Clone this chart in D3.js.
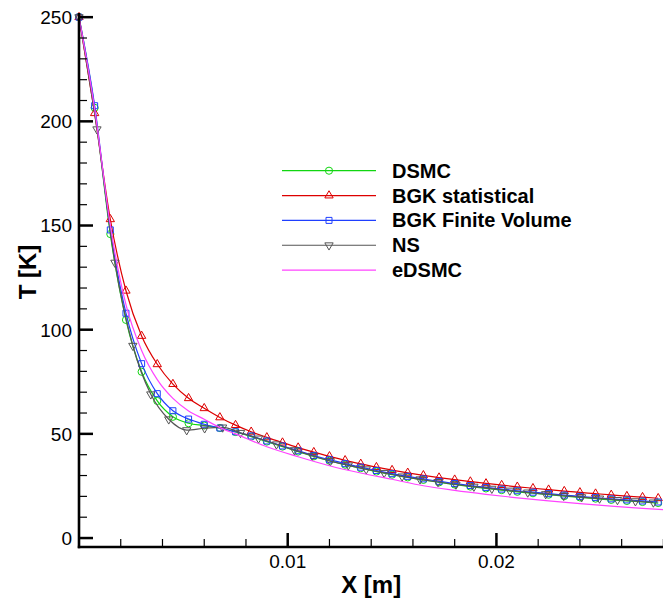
<!DOCTYPE html>
<html lang="en">
<head>
    <meta charset="UTF-8">
    <title>T [K] vs X [m]</title>
    <script src="https://d3js.org/d3.v7.min.js"></script>
    <style>
        body { margin: 0; background: #fff; }
        svg text { font-family: "Liberation Sans", Arial, Helvetica, sans-serif; fill: #000; }
        .tick-label { font-size: 19px; }
        .axis-title { font-size: 24px; font-weight: bold; }
        .legend-label { font-size: 20px; font-weight: bold; }
    </style>
</head>
<body>
<svg width="663" height="600"></svg>

<script>
    // marker grid for DSMC / BGK (every 0.00075 m)
    const xGrid = [0, 0.00075, 0.0015, 0.00225, 0.003, 0.00375, 0.0045, 0.00525, 0.006, 0.00675,
        0.0075, 0.00825, 0.009, 0.00975, 0.0105, 0.01125, 0.012, 0.01275, 0.0135, 0.01425,
        0.015, 0.01575, 0.0165, 0.01725, 0.018, 0.01875, 0.0195, 0.02025, 0.021, 0.02175,
        0.0225, 0.02325, 0.024, 0.02475, 0.0255, 0.02625, 0.027, 0.02775];

    const dsmc = [250, 206.5, 145.9, 104.7, 79.8, 65.8, 58.2, 55.1, 54.0, 52.8,
        50.9, 48.7, 46.3, 43.9, 41.5, 39.2, 37.1, 35.2, 33.5, 31.9,
        30.4, 29.1, 27.9, 26.7, 25.7, 24.7, 23.8, 23.0, 22.2, 21.5,
        20.8, 20.1, 19.5, 18.9, 18.3, 17.8, 17.3, 16.8];

    const bgkStat = [250, 203.9, 153.0, 118.7, 97.0, 83.4, 73.9, 67.1, 62.3, 57.9,
        54.2, 51.0, 48.3, 45.8, 43.4, 41.2, 39.2, 37.3, 35.6, 34.0,
        32.6, 31.3, 30.1, 29.0, 28.0, 27.1, 26.2, 25.4, 24.6, 23.9,
        23.2, 22.5, 21.9, 21.3, 20.7, 20.1, 19.6, 19.1];

    const bgkFV = [250, 207.5, 147.9, 107.9, 83.7, 69.3, 61.1, 57.1, 54.6, 52.8,
        51.0, 49.0, 46.6, 44.2, 41.9, 39.6, 37.6, 35.7, 34.0, 32.4,
        30.9, 29.6, 28.4, 27.2, 26.2, 25.2, 24.3, 23.5, 22.7, 22.0,
        21.3, 20.6, 20.0, 19.4, 18.8, 18.3, 17.8, 17.3];

    // NS markers sit on their own grid (every 0.00086 m)
    const nsX = [0, 0.00086, 0.00172, 0.00258, 0.00344, 0.0043, 0.00516, 0.00602, 0.00688, 0.00774,
        0.0086, 0.00946, 0.01032, 0.01118, 0.01204, 0.0129, 0.01376, 0.01462, 0.01548, 0.01634,
        0.0172, 0.01806, 0.01892, 0.01978, 0.02064, 0.0215, 0.02236, 0.02322, 0.02408, 0.02494,
        0.0258, 0.02666, 0.02752];
    const ns = [250, 196.2, 132.2, 92.3, 69.0, 57.0, 51.8, 52.7, 53.1, 50.5,
        47.8, 45.0, 42.2, 39.5, 36.9, 34.9, 33.0, 31.3, 29.6, 28.2,
        26.9, 25.7, 24.7, 23.7, 22.8, 21.9, 21.1, 20.3, 19.6, 19.0,
        18.3, 17.7, 17.1];

    // eDSMC: line only
    const edsmcX = [0, 0.00075, 0.0015, 0.00225, 0.003, 0.00375, 0.0045, 0.00525, 0.006, 0.00675,
        0.0075, 0.009, 0.0105, 0.012, 0.0135, 0.015, 0.0165, 0.018, 0.0195, 0.021,
        0.0225, 0.024, 0.0255, 0.027, 0.028];
    const edsmc = [250, 206, 150, 112, 90, 76, 67, 61, 57, 53,
        50, 43.8, 39.0, 34.7, 31.2, 28.2, 25.1, 22.9, 21.0, 19.3,
        17.8, 16.5, 15.3, 14.2, 13.6];

    const yTicks = [0, 50, 100, 150, 200, 250];
    const xTicks = [0.01, 0.02];
    const xTickLabels = ["0.01", "0.02"];

    const series = [
        { name: "DSMC", x: xGrid, y: dsmc, color: "#11d611", symbol: "circle" },
        { name: "BGK statistical", x: xGrid, y: bgkStat, color: "#dd0000", symbol: "triangle" },
        { name: "BGK Finite Volume", x: xGrid, y: bgkFV, color: "#1f3fff", symbol: "square" },
        { name: "NS", x: nsX, y: ns, color: "#555555", symbol: "down" },
        { name: "eDSMC", x: edsmcX, y: edsmc, color: "#ff44ff", symbol: null }
    ];

    const svg = d3.select("svg");

    const plotLeft = 79, plotRight = 663.4, plotTop = 13, plotBottom = 547;
    const x = d3.scaleLinear().domain([0, 0.028]).range([plotLeft, plotRight]);
    const y = d3.scaleLinear().domain([-4.3, 252]).range([plotBottom, plotTop]);

    svg.append("defs").append("clipPath").attr("id", "plot")
        .append("rect").attr("x", plotLeft - 8).attr("y", 0).attr("width", plotRight - plotLeft + 8).attr("height", plotBottom);

    function markerPath(sym) {
        if (sym === "circle") return d3.symbol(d3.symbolCircle, 40)();
        if (sym === "square") return d3.symbol(d3.symbolSquare, 36)();
        if (sym === "triangle" || sym === "down") return d3.symbol(d3.symbolTriangle, 30)();
        return null;
    }

    const line = d3.line()
        .x(d => x(d[0]))
        .y(d => y(d[1]))
        .curve(d3.curveMonotoneX);

    const plot = svg.append("g").attr("clip-path", "url(#plot)");

    series.forEach(s => {
        const pts = s.x.map((v, i) => [v, s.y[i]]);
        plot.append("path")
            .datum(pts)
            .attr("fill", "none")
            .attr("stroke", s.color)
            .attr("stroke-width", 1.2)
            .attr("d", line);
        if (s.symbol) {
            plot.append("g").selectAll("path")
                .data(pts)
                .enter().append("path")
                .attr("d", markerPath(s.symbol))
                .attr("transform", d => `translate(${x(d[0])},${y(d[1])})` + (s.symbol === "down" ? " rotate(180)" : ""))
                .attr("fill", "none")
                .attr("stroke", s.color)
                .attr("stroke-width", 1);
        }
    });

    // axes (ticks point inward, Tecplot style)
    const axes = svg.append("g").attr("stroke", "#000");

    d3.range(0, 251, 10).forEach(v => {
        const major = v % 50 === 0;
        axes.append("line")
            .attr("x1", plotLeft).attr("x2", plotLeft + (major ? 14 : 8))
            .attr("y1", y(v)).attr("y2", y(v))
            .attr("stroke-width", major ? 2.5 : 1.2);
    });

    d3.range(1, 15).forEach(k => {
        const v = k * 0.002;
        const major = k % 5 === 0;
        axes.append("line")
            .attr("x1", x(v)).attr("x2", x(v))
            .attr("y1", plotBottom).attr("y2", plotBottom - (major ? 14 : 8))
            .attr("stroke-width", major ? 2.5 : 1.2);
    });

    axes.append("line").attr("x1", plotLeft).attr("x2", plotLeft).attr("y1", plotTop).attr("y2", plotBottom + 1.2).attr("stroke-width", 2.6);
    axes.append("line").attr("x1", plotLeft - 1.2).attr("x2", 663).attr("y1", plotBottom).attr("y2", plotBottom).attr("stroke-width", 2.6);

    svg.append("g").selectAll("text")
        .data(yTicks)
        .enter().append("text")
        .attr("class", "tick-label")
        .attr("x", 72)
        .attr("y", d => y(d))
        .attr("dy", "0.36em")
        .attr("text-anchor", "end")
        .text(d => d);

    svg.append("g").selectAll("text")
        .data(xTicks)
        .enter().append("text")
        .attr("class", "tick-label")
        .attr("x", d => x(d))
        .attr("y", 568)
        .attr("text-anchor", "middle")
        .text((d, i) => xTickLabels[i]);

    svg.append("text")
        .attr("class", "axis-title")
        .attr("x", (plotLeft + plotRight) / 2)
        .attr("y", 593)
        .attr("text-anchor", "middle")
        .text("X [m]");

    svg.append("text")
        .attr("class", "axis-title")
        .attr("transform", "translate(36,272) rotate(-90)")
        .attr("text-anchor", "middle")
        .text("T [K]");

    // legend
    const legend = svg.append("g");
    series.forEach((s, i) => {
        const ly = 170.7 + i * 24.85;
        legend.append("line")
            .attr("x1", 282).attr("x2", 376)
            .attr("y1", ly).attr("y2", ly)
            .attr("stroke", s.color).attr("stroke-width", 1.2);
        if (s.symbol) {
            legend.append("path")
                .attr("d", markerPath(s.symbol))
                .attr("transform", `translate(329,${ly})` + (s.symbol === "down" ? " rotate(180)" : ""))
                .attr("fill", "none")
                .attr("stroke", s.color)
                .attr("stroke-width", 1);
        }
        legend.append("text")
            .attr("class", "legend-label")
            .attr("x", 392)
            .attr("y", ly + 7)
            .text(s.name);
    });
</script>
</body>
</html>
